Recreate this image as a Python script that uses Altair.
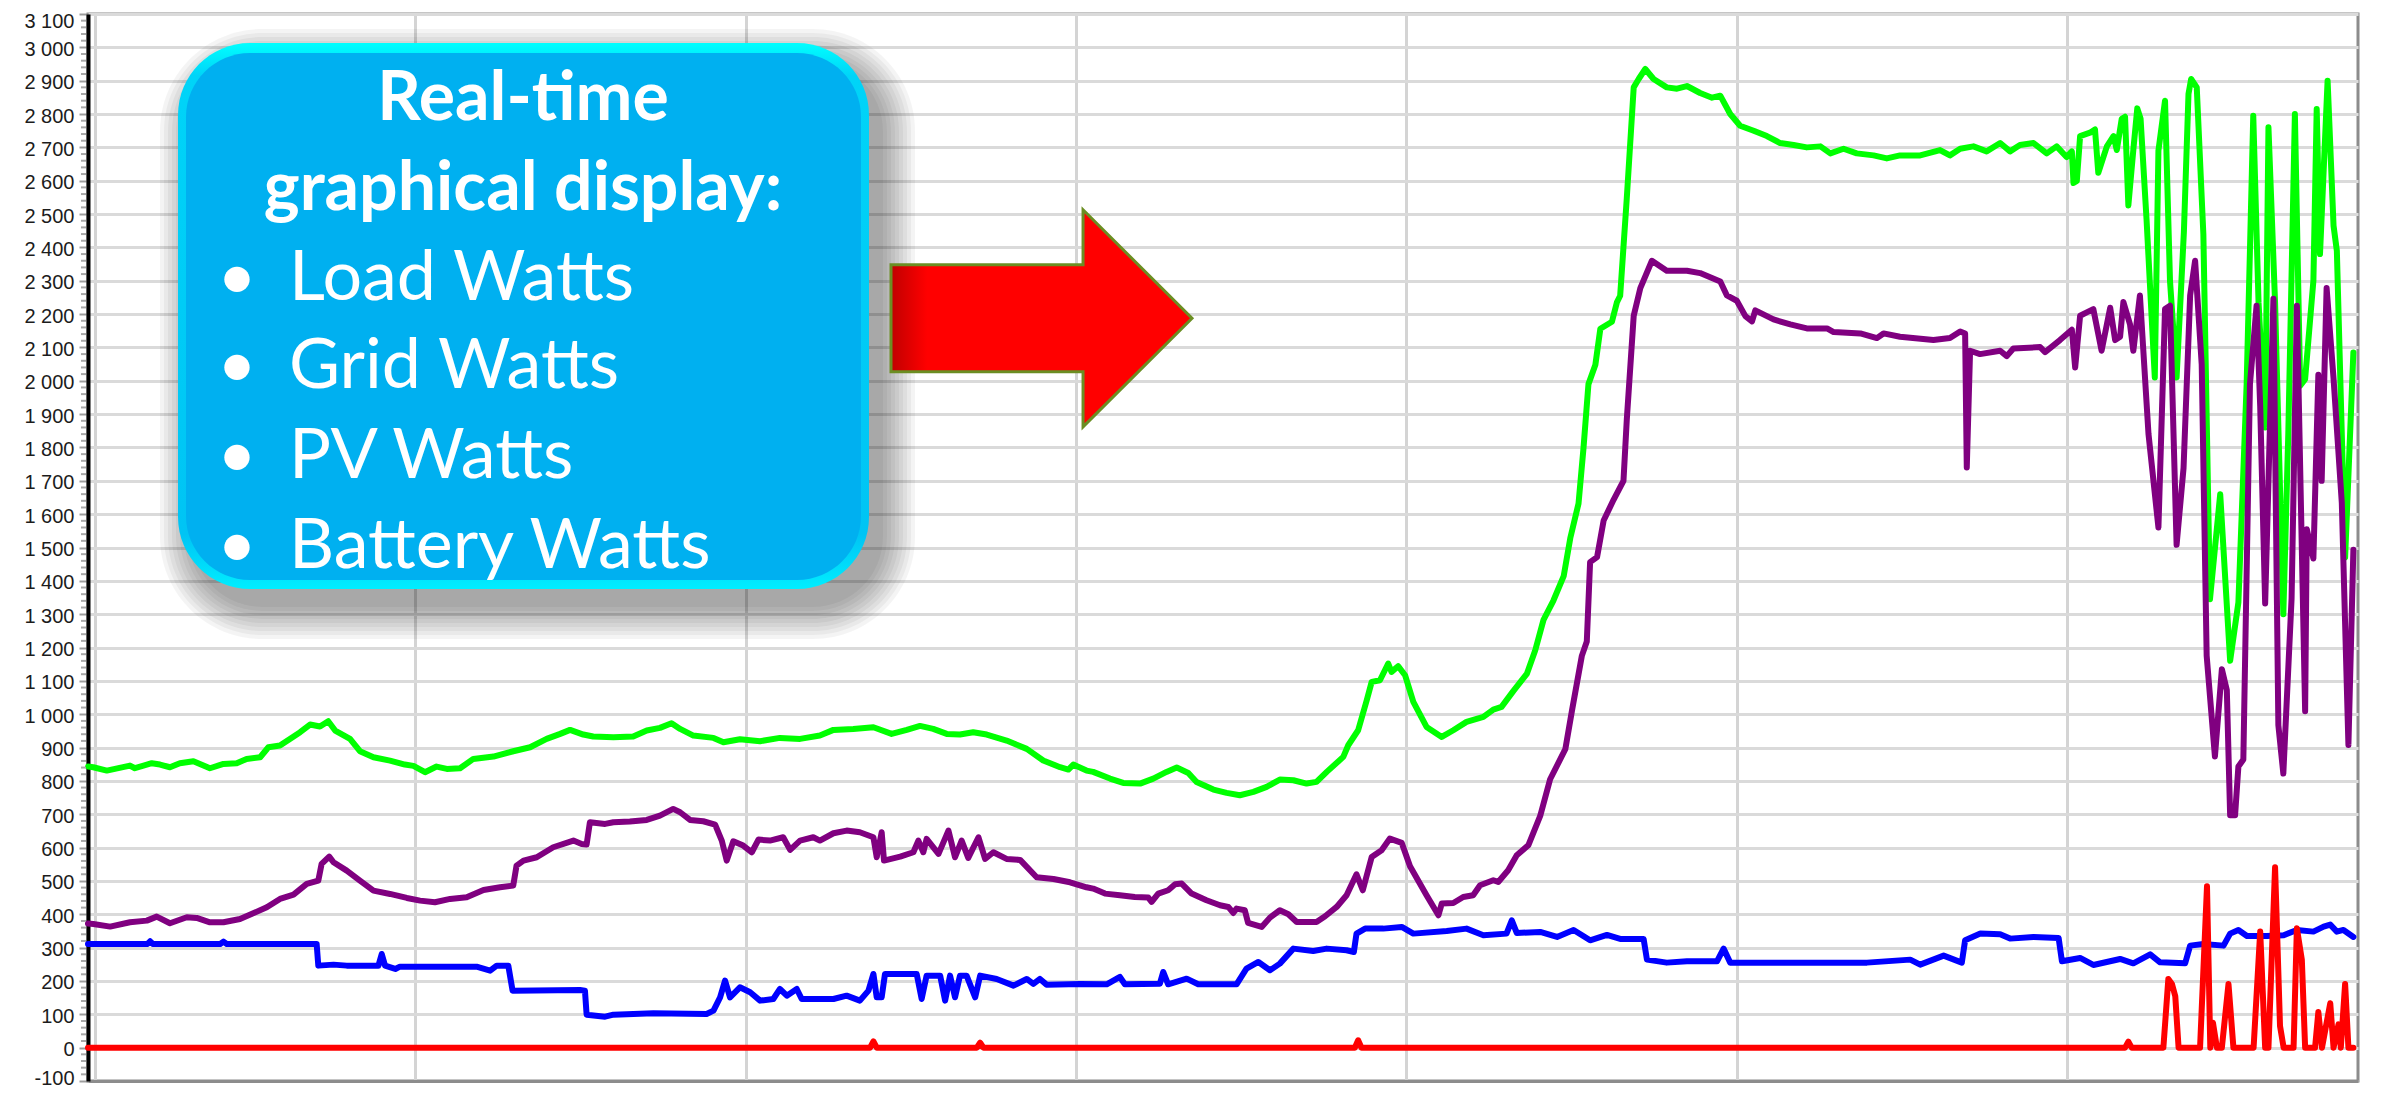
import altair as alt
import pandas as pd

# ---------------- data (sample index, watts) ----------------
load_x = [1, 2.6, 6.7, 13.7, 15.2, 20.3, 22.8, 25.8, 28.8, 32.9, 37.9, 42, 46, 49, 53.1, 55.6, 59.1, 62.1,
          65.2, 68.2, 71.2, 73.7, 75.8, 80.3, 83.3, 87.4, 92.4, 96.9, 99.5, 103, 106.5, 109.6, 113.6,
          117.6, 123.7, 129.7, 134.8, 139.8, 143.9, 146.9, 150.9, 153.9, 160, 166, 170.1, 174.1, 177.6,
          180.2, 184.2, 190.3, 193.3, 198.3, 204.4, 210.4, 216.5, 222.5, 226.6, 232.6, 238.7, 244.2,
          248.8, 252.8, 256.8, 260.9, 264.9, 268.9, 273, 279, 285.1, 290.1, 295.2, 297.7, 299.2, 303.2,
          305.2, 310.3, 314.3, 319.4, 323.4, 327.4, 330.5, 334, 336.5, 341.6, 345.6, 349.6, 353.7,
          357.7, 361.7, 365.8, 369.8, 372.8, 375.9, 380.9, 382.4, 385.4, 388, 389.5, 392, 394.5, 395.5,
          397.5, 399.6, 402.1, 406.1, 410.7, 414.2, 418.2, 423.3, 426.3, 428.8, 432.4, 436.5, 439,
          441.5, 444.5, 447.6, 449.6, 452.1, 453.6, 455.1, 457.2, 458.7, 462.2, 463.7, 464.7, 466.7,
          468.8, 470.3, 472.3, 474.8, 478.8, 481.9, 484.9, 488.9, 492.5, 495, 498, 501, 505.1, 509.1,
          513.1, 517.2, 521.2, 525.3, 528.3, 532.3, 536.3, 541.4, 545.4, 549.4, 555.5, 561.5, 564.5,
          567.6, 571.6, 575.6, 579.7, 582.7, 585.7, 589.8, 593.8, 596.8, 599.8, 601.4, 601.9, 602.9,
          603.9, 606.9, 608.4, 609.4, 612, 614, 615, 616.5, 617.5, 618.5, 620, 621.2, 622.2, 624,
          626.5, 627.6, 629.6, 631.1, 633.1, 635.3, 636.7, 637.5, 639.2, 641.2, 643.2, 646.3, 649.3,
          651.8, 654.3, 656.3, 657.9, 659.9, 660.9, 662.9, 665.4, 666.9, 668.9, 670.5, 672, 674.5,
          675.5, 676.5, 678.8, 680.6, 681.6, 684.1, 686.6]
load_w = [843, 841, 831, 846, 838, 853, 849, 841, 853, 859, 838, 851, 853, 866, 871, 901, 906, 926,
          946, 969, 963, 979, 951, 926, 889, 871, 861, 849, 845, 826, 843, 836, 838,
          866, 873, 889, 901, 926, 941, 953, 939, 933, 931, 933, 951, 959, 973,
          956, 936, 929, 916, 925, 919, 929, 926, 936, 953, 956, 961, 941,
          953, 965, 956, 941, 939, 946, 939, 921, 896, 861, 841, 834, 849, 831,
          827, 807, 794, 792, 807, 827, 840, 824, 797, 774, 764, 757, 767,
          782, 804, 802, 792, 797, 827, 872, 907, 952, 1042, 1097, 1102, 1152, 1127,
          1144, 1117, 1037, 962, 932, 952, 977, 992, 1014, 1022, 1070, 1122, 1192,
          1283, 1341, 1414, 1528, 1632, 1798, 1990, 2048, 2156, 2177, 2235, 2255, 2547,
          2880, 2905, 2935, 2905, 2880, 2876, 2884, 2863, 2849, 2855, 2800, 2765, 2750, 2734,
          2713, 2707, 2700, 2703, 2682, 2696, 2682, 2676, 2667, 2676, 2676, 2692, 2676,
          2696, 2703, 2688, 2713, 2688, 2707, 2713, 2682, 2703, 2671, 2688, 2593, 2599,
          2734, 2744, 2754, 2624, 2703, 2734, 2692, 2786, 2792, 2526, 2692, 2817, 2786, 2485,
          2010, 2690, 2840, 2300, 2010, 2445, 2860, 2905, 2880, 2440, 1345, 1660, 1160,
          1335, 1990, 2795, 2235, 1860, 2760, 2235, 1300, 1840, 2800, 1985, 2005, 2300,
          2815, 2380, 2900, 2465, 2390, 1470, 2085]

grid_x = [1, 2.6, 7.7, 13.7, 18.8, 21.8, 25.8, 30.9, 33.9, 37.9, 42, 47, 51, 55.1, 59.1, 63.2, 67.2,
          70.7, 71.7, 74, 75.3, 79.3, 83.3, 87.4, 92.4, 97.5, 101.5, 106, 110.6, 115.6, 120.7, 125.7,
          129.7, 130.7, 132.8, 136.8, 141.8, 147.9, 150.4, 151.9, 152.9, 157.5, 160, 165, 170.1,
          174.1, 178.1, 180.2, 183.2, 187.2, 190.8, 192.8, 194.3, 196.3, 199.3, 201.9, 203.9, 207.4,
          211.4, 213.5, 216.5, 220.5, 222.5, 226.6, 230.6, 234.6, 238.7, 239.7, 241.2, 241.9, 246.8,
          250.8, 252.3, 253.8, 254.8, 258.4, 261.4, 263.4, 265.4, 267.4, 270.5, 272.5, 275, 279,
          283.1, 288.1, 293.2, 298.2, 303.2, 305.2, 308.8, 313.3, 317.8, 321.9, 322.9, 324.9, 327.9,
          330, 332, 335, 339.5, 343.6, 346.1, 347.6, 348.6, 351.1, 352.1, 356.2, 358.7, 361.7, 364.3,
          366.8, 372.8, 375.4, 378.9, 381.9, 384.9, 386.8, 389.5, 392.5, 395, 398.6, 401.1, 406.1,
          409.7, 410.7, 414.2, 417.2, 420.2, 422.3, 426.3, 427.8, 430.8, 433.4, 436.9, 440.5, 443.5,
          448.1, 450.1, 453.1, 454.6, 455.6, 457.7, 459.7, 462.7, 465.7, 466.7, 468.8, 470.8, 474.3,
          478.8, 484.9, 488.9, 495, 497, 500, 502.6, 504.6, 505.6, 511.1, 516.2, 521.2, 527.3, 529.3,
          537.4, 542.4, 544.4, 549.4, 559.5, 564.5, 567.6, 569.1, 569.6, 570.6, 573.6, 579.7, 581.7,
          583.7, 591.8, 593.3, 597.8, 601.4, 602.4, 603.9, 605.9, 607.9, 610.4, 613, 614.5, 616, 617,
          619, 620, 622, 624.6, 627.6, 629.6, 631.1, 633.1, 635.2, 637.2, 638.7, 640.7, 642.2, 644.7,
          646.8, 648.3, 649.3, 650.8, 651.8, 653.3, 655.3, 657.3, 658.4, 659.9, 662.4, 663.9, 665.4,
          667.9, 669.5, 672, 672.5, 674.5, 676, 677, 678.5, 680.6, 683.1, 685.1, 686.6]
grid_w = [372, 371, 363, 376, 381, 393, 373, 391, 389, 376, 376, 386, 403, 421, 446, 459, 491,
          501, 551, 573, 556, 531, 501, 471, 461, 449, 441, 436, 446, 451, 473, 481,
          486, 546, 561, 571, 601, 621, 611, 609, 676, 671, 676, 678, 683,
          696, 716, 706, 683, 679, 669, 621, 561, 619, 606, 586, 624, 621,
          631, 593, 621, 631, 621, 643, 651, 646, 631, 571, 646, 561, 573,
          586, 621, 586, 626, 581, 651, 571, 621, 569, 631, 566, 586, 566,
          563, 511, 506, 496, 481, 477, 462, 457, 452, 450, 437, 462, 472,
          490, 492, 462, 442, 427, 422, 404, 417, 412, 374, 362, 390, 412, 400,
          377, 377, 394, 422, 457, 520, 472, 572, 592, 627, 614, 544, 457,
          397, 432, 434, 452, 457, 487, 502, 497, 532, 577, 607, 695, 805,
          895, 1010, 1175, 1218, 1456, 1471, 1581, 1643, 1700, 1883, 2195, 2278, 2360,
          2330, 2330, 2323, 2298, 2256, 2240, 2194, 2178, 2211, 2184, 2169, 2157, 2157, 2146,
          2142, 2128, 2142, 2132, 2122, 2128, 2148, 2142, 1740, 2090, 2080, 2090, 2074,
          2097, 2101, 2086, 2122, 2153, 2040, 2195, 2205, 2215, 2090, 2219, 2122, 2132, 2236,
          2169, 2090, 2256, 1840, 1560, 2215, 2225, 1508, 1738, 2256, 2360, 2049, 1175, 873,
          1135, 1072, 697, 697, 843, 864, 1990, 2225, 1924, 1332, 2246, 967, 822,
          1347, 2225, 1009, 1555, 1467, 2018, 1700, 2278, 2007, 1634, 908, 1493]

pv_x = [1, 19, 19.8, 20.6, 41, 42, 43, 70.2, 70.7, 75.3, 79.3, 88.9, 89.9, 90.9, 94, 95.4, 118.6,
        122.7, 124.7, 128.2, 129.5, 149.9, 151.4, 151.9, 157.5, 160, 172.1, 188.2, 190.3, 192.3,
        193.8, 195.3, 198.3, 201.4, 204.4, 208.4, 210.4, 212.5, 215.5, 217, 226.6, 230.6, 234.6,
        237.2, 238.7, 239.7, 241.2, 242.2, 251.8, 253.3, 254.8, 258.9, 260.4, 261.9, 263.4, 264.9,
        266.9, 269.5, 271, 276, 281.1, 285.1, 287.1, 289.1, 291.1, 301.2, 309.3, 313.3, 314.8,
        325.4, 326.4, 327.9, 333.5, 337, 348.6, 351.6, 355.2, 358.7, 361.7, 365.8, 371.8, 375.9,
        381.9, 384.1, 384.9, 387.5, 393, 398.6, 402.1, 412.2, 418.2, 423.3, 430.3, 431.9, 433.4,
        440.5, 445.6, 450.6, 455.6, 460.7, 464.7, 471.8, 472.8, 478.8, 484.9, 494, 496, 498, 509.1,
        519.2, 529.3, 539.4, 552.5, 555.5, 562.6, 568.1, 569.1, 573.7, 579.7, 582.7, 589.8, 597.4,
        598.4, 603.9, 607.9, 616, 620, 625.1, 628.1, 635.7, 637.2, 641.2, 647.3, 649.3, 651.8,
        654.4, 660.4, 665.5, 669.5, 674.5, 677.6, 679.6, 681.6, 683.6, 686.6]
pv_w = [311, 311, 319, 311, 311, 318, 311, 311, 246, 249, 246, 246, 281, 246, 236, 243, 243,
        231, 246, 246, 171, 173, 171, 99, 93, 99, 103, 101, 111, 151,
        201, 151, 181, 166, 141, 146, 176, 156, 176, 146, 146, 156, 141,
        171, 221, 151, 151, 221, 221, 146, 216, 216, 141, 216, 151, 216,
        216, 151, 216, 206, 186, 206, 191, 206, 189, 191, 190, 212, 190,
        192, 227, 190, 207, 190, 190, 237, 257, 232, 252, 297, 290, 297,
        292, 287, 342, 357, 357, 362, 342, 350, 357, 337, 342, 382, 344,
        347, 332, 353, 322, 338, 326, 326, 264, 255, 259, 259, 297, 255, 255,
        255, 255, 255, 264, 249, 276, 255, 322, 342, 340, 327, 332, 329,
        259, 269, 248, 266, 253, 280, 256, 253, 306, 311, 306, 342, 353,
        335, 335, 337, 353, 348, 363, 369, 348, 353, 332]

bat_x = [1, 237.7, 238.7, 239.7, 270, 271, 272, 384.4, 385.4, 386.4, 617.5, 618.5, 619.5, 629.1,
         630.6, 631.7, 632.7, 633.7, 640.2, 642.3, 643.3, 644.1, 645.3, 646.8, 648.8, 650.3, 656.4,
         658.4, 659.9, 660.9, 662.9, 664.4, 665.5, 668.5, 669.5, 671, 672, 675, 676, 677.1, 679.6,
         680.6, 682.1, 682.8, 684.1, 685.1, 686.6]
bat_w = [0, 0, 19, 0, 0, 15, 0, 0, 22, 0, 0, 18, 0, 0,
         206, 191, 154, 0, 0, 484, 0, 75, 0, 0, 191, 0, 0,
         348, 0, 0, 541, 65, 0, 0, 358, 264, 0, 0, 107, 0, 133,
         0, 70, 0, 191, 0, 0]

y_ticks = list(range(-100, 3101, 100))
y_minor = [v for v in range(-100, 3101, 20) if v % 100 != 0]
x_grid = [3, 100, 200, 300, 400, 500, 600]

callout_title = ["Real-time", "graphical display:"]
callout_items = ["Load Watts", "Grid Watts", "PV Watts", "Battery Watts"]

# ---------------- chart ----------------
W, H = 2270, 1067
xs = alt.Scale(domain=[1, 688], nice=False, zero=False)
ys = alt.Scale(domain=[-100, 3100], nice=False, zero=False)

x_axis = alt.Axis(values=x_grid, labels=False, ticks=False, domain=True, domainColor="#8c8c8c",
                  domainWidth=3, grid=True, gridColor="#d4d4d4", gridWidth=3, title=None)
y_axis = alt.Axis(values=y_ticks,
                  labelExpr="replace(replace(format(datum.value, ','), ',', ' '), '\u2212', '-')",
                  labelFont="Liberation Sans", labelFontSize=20, labelColor="#1c1c1c",
                  labelPadding=5, labelOffset=2, labelOverlap=False,
                  labelFlush=True, labelFlushOffset=5, tickSize=9,
                  tickColor="#9c9c9c", tickWidth=2,
                  domainColor="#000000", domainWidth=4, grid=True, gridColor="#dadada",
                  gridWidth=3, title=None)

X = alt.X("idx:Q", scale=xs, axis=x_axis)
Y = alt.Y("watts:Q", scale=ys, axis=y_axis)


def series(xv, wv, color):
    df = pd.DataFrame({"idx": xv, "watts": wv})
    return alt.Chart(df).mark_line(color=color, strokeWidth=6, strokeJoin="round",
                                   strokeCap="round").encode(x=X, y=Y)


minor = alt.Chart(pd.DataFrame({"watts": y_minor})).mark_rule(
    color="#a8a8a8", strokeWidth=2).encode(y=Y, x=alt.value(-7), x2=alt.value(-2))

one = pd.DataFrame({"k": [0]})

# callout box geometry (pixels inside the plot area)
bx0, bx1, by0, by1 = 90, 781, 29, 575
shadow = []
for i in range(9):
    g = 4 * i
    shadow.append(alt.Chart(one).mark_rect(color="black", opacity=0.045, cornerRadius=70 + g).encode(
        x=alt.value(bx0 + 14 - g), x2=alt.value(bx1 + 14 + g),
        y=alt.value(by0 + 18 - g), y2=alt.value(by1 + 18 + g)))

outer_fill = alt.Gradient(gradient="linear", x1=0, x2=0, y1=0, y2=1, stops=[
    alt.GradientStop(color="#00FFFF", offset=0),
    alt.GradientStop(color="#00D4F8", offset=0.06),
    alt.GradientStop(color="#00C4F4", offset=0.9),
    alt.GradientStop(color="#00EEFF", offset=1)])
box_outer = alt.Chart(one).mark_rect(fill=outer_fill, cornerRadius=72).encode(
    x=alt.value(bx0), x2=alt.value(bx1), y=alt.value(by0), y2=alt.value(by1))
box_inner = alt.Chart(one).mark_rect(color="#00B0F0", cornerRadius=64).encode(
    x=alt.value(bx0 + 8), x2=alt.value(bx1 - 8), y=alt.value(by0 + 10), y2=alt.value(by1 - 9))


def txt(s, x, y, size, weight, align):
    return alt.Chart(one).mark_text(text=s, font="Lato", fontSize=size, fontWeight=weight,
                                    color="white", align=align, baseline="alphabetic").encode(
        x=alt.value(x), y=alt.value(y))


texts = [txt(callout_title[0], 435, 106, 68, "bold", "center"),
         txt(callout_title[1], 435, 196, 68, "bold", "center")]
for i, item in enumerate(callout_items):
    base = [286, 374, 464, 554][i]
    texts.append(txt("\u2022", 149, base, 68, "normal", "center"))
    texts.append(txt(item, 201, base, 70, "normal", "left"))

# arrow
arrow_path = "M -1 -0.3555 L 0.276 -0.3555 L 0.276 -0.721 L 1 0 L 0.276 0.721 L 0.276 0.3555 L -1 0.3555 Z"
arrow_fill = alt.Gradient(gradient="linear", x1=0, x2=1, y1=0, y2=0, stops=[
    alt.GradientStop(color="#C00000", offset=0),
    alt.GradientStop(color="#FF0000", offset=0.12),
    alt.GradientStop(color="#FF0000", offset=1)])
arrow = alt.Chart(one).mark_point(shape=arrow_path, size=301 * 301, filled=True, fill=arrow_fill,
                                  stroke="#6B8E23", strokeWidth=3, opacity=1).encode(
    x=alt.value(953.5), y=alt.value(304.3))

chart = alt.layer(
    series(load_x, load_w, "#00FF00"),
    series(grid_x, grid_w, "#800080"),
    series(pv_x, pv_w, "#0000FF"),
    series(bat_x, bat_w, "#FF0000"),
    minor,
    *shadow, box_outer, box_inner, *texts, arrow,
).properties(
    width=W, height=H,
    padding={"left": 80, "top": 6, "right": 12, "bottom": 8},
    autosize=alt.AutoSizeParams(type="none"),
    background="white",
).configure_view(stroke="#8c8c8c", strokeWidth=3)

chart.save("out.html", embed_options={"renderer": "svg", "actions": False})
